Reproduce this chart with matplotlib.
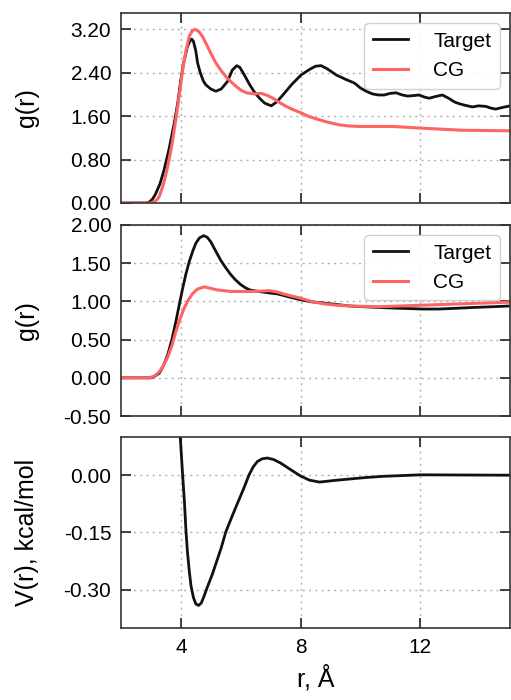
import numpy as np
import matplotlib

matplotlib.use("Agg")
import matplotlib.pyplot as plt
from matplotlib.ticker import FormatStrFormatter

# panel 1: g(r), first system
r1_target = [2.0, 2.85, 2.95, 3.05, 3.15, 3.3, 3.44, 3.6, 3.78, 3.9, 4.0, 4.1, 4.22, 4.3,
             4.36, 4.42, 4.5, 4.56, 4.65, 4.75, 4.83, 5.0, 5.17, 5.35, 5.56, 5.72, 5.87,
             5.97, 6.1, 6.3, 6.45, 6.63, 6.8, 7.02, 7.2, 7.41, 7.7, 8.02, 8.3, 8.5, 8.69,
             8.9, 9.19, 9.5, 9.8, 10.0, 10.19, 10.4, 10.6, 10.8, 11.0, 11.19, 11.4, 11.58,
             11.8, 11.96, 12.15, 12.3, 12.5, 12.74, 12.95, 13.15, 13.3, 13.5, 13.74, 13.95,
             14.19, 14.35, 14.52, 14.75, 15.0]
g1_target = [0.0, 0.0, 0.02, 0.07, 0.16, 0.35, 0.61, 0.98, 1.47, 1.86, 2.27, 2.6, 2.88, 2.98,
             3.02, 2.98, 2.8, 2.58, 2.4, 2.25, 2.18, 2.1, 2.06, 2.1, 2.24, 2.45, 2.53,
             2.5, 2.38, 2.18, 2.05, 1.93, 1.84, 1.79, 1.86, 1.99, 2.18, 2.36, 2.46, 2.52, 2.53,
             2.47, 2.36, 2.28, 2.21, 2.12, 2.06, 2.01, 1.99, 1.99, 2.02, 2.03, 1.99, 1.97,
             1.98, 1.99, 1.95, 1.93, 1.96, 1.99, 1.93, 1.86, 1.83, 1.8, 1.77, 1.79,
             1.78, 1.75, 1.73, 1.76, 1.79]
r1_cg = [2.0, 3.0, 3.1, 3.2, 3.28, 3.42, 3.56, 3.7, 3.83, 3.95, 4.06, 4.17, 4.28, 4.38,
         4.47, 4.6, 4.72, 4.86, 5.0, 5.15, 5.33, 5.55, 5.78, 6.0, 6.2, 6.45, 6.69, 6.9,
         7.08, 7.3, 7.52, 7.75, 8.02, 8.25, 8.52, 8.9, 9.3, 9.6, 9.97, 10.5, 11.08, 12.02,
         13.41, 15.0]
g1_cg = [0.0, 0.0, 0.02, 0.06, 0.12, 0.35, 0.67, 1.07, 1.53, 2.0, 2.45, 2.8, 3.07, 3.17,
         3.2, 3.16, 3.07, 2.92, 2.76, 2.6, 2.45, 2.3, 2.18, 2.08, 2.03, 2.01, 2.02, 1.98,
         1.93, 1.85, 1.78, 1.72, 1.66, 1.6, 1.55, 1.49, 1.44, 1.42, 1.41, 1.41, 1.41, 1.38,
         1.34, 1.33]

# panel 2: g(r), second system
r2_target = [2.0, 3.0, 3.1, 3.2, 3.28, 3.42, 3.56, 3.7, 3.83, 3.95, 4.06, 4.17, 4.28, 4.4,
             4.5, 4.62, 4.76, 4.88, 5.0, 5.15, 5.33, 5.5, 5.67, 5.83, 6.0, 6.15, 6.3, 6.6,
             6.97, 7.2, 7.41, 7.7, 8.02, 8.35, 8.74, 9.2, 9.63, 10.1, 10.63, 11.3, 12.08,
             12.63, 13.2, 13.74, 14.4, 15.0]
g2_target = [0.0, 0.0, 0.015, 0.04, 0.06, 0.16, 0.30, 0.5, 0.73, 0.96, 1.17, 1.36, 1.52, 1.66,
             1.76, 1.83, 1.86, 1.84, 1.78, 1.67, 1.54, 1.44, 1.35, 1.28, 1.22, 1.18, 1.15, 1.13,
             1.11, 1.1, 1.08, 1.05, 1.02, 0.995, 0.98, 0.96, 0.94, 0.93, 0.92, 0.91, 0.90,
             0.90, 0.91, 0.92, 0.93, 0.94]
r2_cg = [2.0, 2.95, 3.1, 3.2, 3.28, 3.42, 3.56, 3.7, 3.83, 3.97, 4.11, 4.25, 4.39, 4.55,
         4.78, 5.0, 5.22, 5.45, 5.67, 6.0, 6.33, 6.65, 6.97, 7.2, 7.41, 7.7, 8.02, 8.35,
         8.74, 9.2, 9.63, 10.63, 11.3, 12.08, 13.5, 15.0]
g2_cg = [0.0, 0.0, 0.02, 0.05, 0.08, 0.16, 0.27, 0.42, 0.60, 0.77, 0.91, 1.02, 1.10, 1.16,
         1.19, 1.17, 1.15, 1.14, 1.13, 1.13, 1.13, 1.135, 1.14, 1.125, 1.10, 1.07, 1.04, 1.0,
         0.97, 0.95, 0.94, 0.93, 0.94, 0.95, 0.97, 0.99]

# panel 3: CG potential
r3 = [3.93, 3.98, 4.02, 4.06, 4.12, 4.17, 4.22, 4.28, 4.34, 4.42, 4.5, 4.59, 4.68, 4.76,
      4.9, 5.05, 5.17, 5.35, 5.5, 5.7, 5.89, 6.1, 6.28, 6.42, 6.56, 6.72, 6.89, 7.1, 7.33,
      7.66, 8.0, 8.3, 8.63, 9.1, 9.63, 10.2, 10.74, 12.02, 15.0]
v3 = [0.20, 0.10, 0.05, 0.0, -0.07, -0.144, -0.20, -0.25, -0.29, -0.32, -0.337, -0.341,
      -0.335, -0.32, -0.29, -0.26, -0.232, -0.19, -0.149, -0.11, -0.074, -0.035, 0.001,
      0.022, 0.036, 0.043, 0.045, 0.041, 0.032, 0.015, -0.002, -0.013, -0.018, -0.014,
      -0.010, -0.006, -0.003, 0.001, 0.0]

plt.rcParams.update({
    "font.family": ["Liberation Sans", "DejaVu Sans"],
    "axes.unicode_minus": False,
    "axes.edgecolor": "#333333",
    "axes.linewidth": 1.2,
})

fig = plt.figure(figsize=(5.11, 7.0), dpi=100)
left, width = 0.2368, 0.7612
boxes = [(0.71, 0.2714), (0.4057, 0.2729), (0.1029, 0.2728)]
axes = [fig.add_axes([left, b, width, h]) for b, h in boxes]

black, red = "#111111", "#ff6464"
axes[0].plot(r1_target, g1_target, color=black, lw=2.0, label="Target")
axes[0].plot(r1_cg, g1_cg, color=red, lw=2.2, label="CG")
axes[1].plot(r2_target, g2_target, color=black, lw=2.0, label="Target")
axes[1].plot(r2_cg, g2_cg, color=red, lw=2.2, label="CG")
axes[2].plot(r3, v3, color=black, lw=2.0)

axes[0].set_ylim(0, 3.5)
axes[0].set_yticks([0.0, 0.8, 1.6, 2.4, 3.2])
axes[1].set_ylim(-0.5, 2.0)
axes[1].set_yticks([-0.5, 0.0, 0.5, 1.0, 1.5, 2.0])
axes[2].set_ylim(-0.4, 0.1)
axes[2].set_yticks([-0.30, -0.15, 0.0])

for i, ax in enumerate(axes):
    ax.set_xlim(2, 15)
    ax.set_xticks([4, 8, 12])
    ax.yaxis.set_major_formatter(FormatStrFormatter("%.2f"))
    ax.tick_params(direction="in", top=True, right=True, length=7, width=1.2,
                   color="#222222", labelsize=15, pad=7)
    ax.grid(True, color="#b0b0b0", lw=1.0, linestyle=(0, (1.5, 3)))
    ax.set_axisbelow(True)
    if i < 2:
        ax.tick_params(labelbottom=False)
        ax.set_ylabel("g(r)", fontsize=18)
        ax.legend(loc="upper right", fontsize=15, handlelength=1.7,
                  handletextpad=1.2, framealpha=0.9, edgecolor="#cccccc")
    ax.yaxis.set_label_coords(-0.21, 0.5)

axes[2].set_ylabel("V(r), kcal/mol", fontsize=18)
axes[2].yaxis.set_label_coords(-0.21, 0.5)
axes[2].set_xlabel("r, Å", fontsize=18, labelpad=6)

fig.savefig("out.png", dpi=100)
